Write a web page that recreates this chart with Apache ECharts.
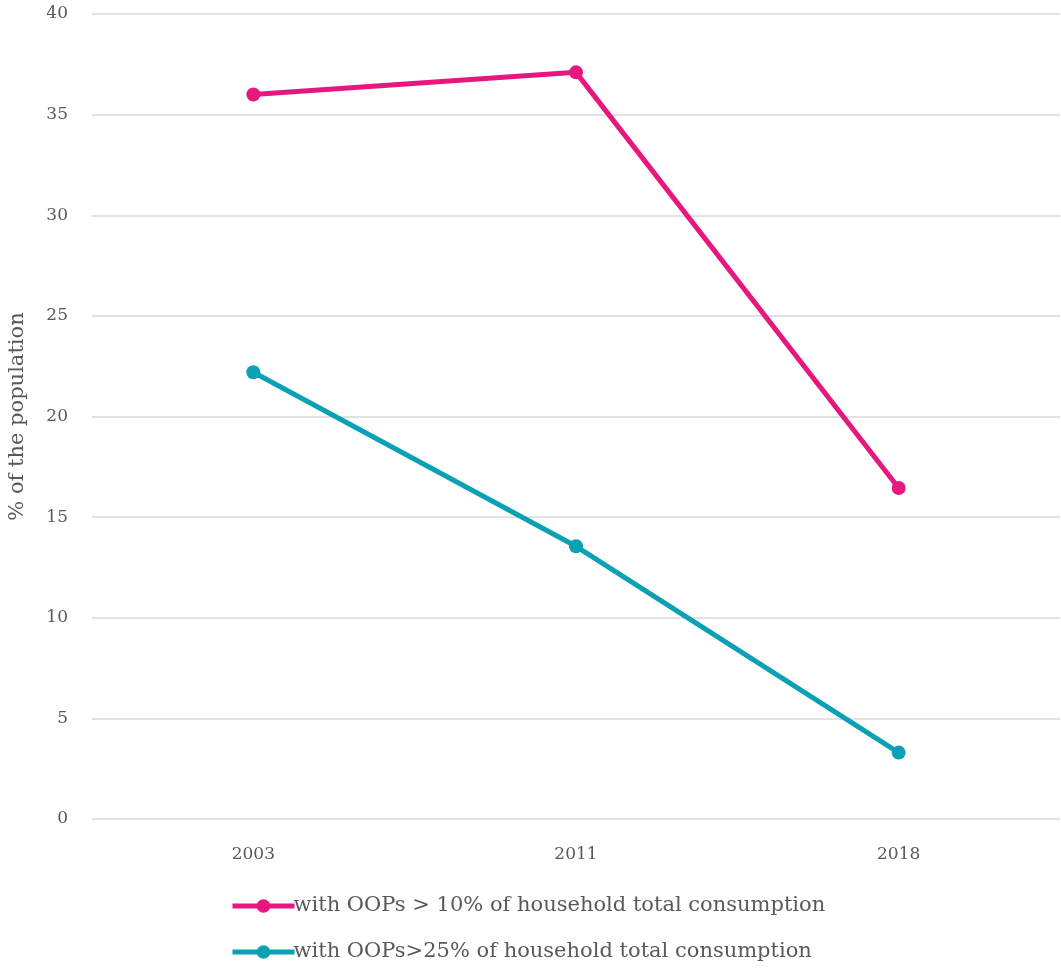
<!DOCTYPE html>
<html>
<head>
<meta charset="utf-8">
<script src="https://cdn.jsdelivr.net/npm/echarts@6/dist/echarts.min.js"></script>
<style>
  html, body { margin: 0; padding: 0; background: #fff; }
  #chart { width: 1061px; height: 969px; }
</style>
</head>
<body>
<div id="chart"></div>
<script>
// OOP spending share chart

var years = ['2003', '2011', '2018'];
var over10 = [36.0, 37.1, 16.45];
var over25 = [22.2, 13.55, 3.3];
var yTicks = [0, 5, 10, 15, 20, 25, 30, 35, 40];

var serif = '"DejaVu Serif", "Liberation Serif", serif';

var chart = echarts.init(document.getElementById('chart'));

var option = {
    animation: false,
    grid: {
        left: 92,
        right: 1,
        top: 14,
        bottom: 150,
        outerBoundsMode: 'none'
    },
    legend: {
        orient: 'vertical',
        left: 230,
        top: 895,
        padding: 0,
        itemGap: 24,
        itemWidth: 62,
        itemHeight: 17,
        lineStyle: { width: 5 },
        textStyle: {
            fontFamily: serif,
            fontSize: 21,
            lineHeight: 22,
            color: '#595959',
            padding: [0, 0, 0, -6]
        },
        data: ['with OOPs > 10% of household total consumption', 'with OOPs>25% of household total consumption']
    },
    xAxis: {
        type: 'category',
        data: years,
        boundaryGap: true,
        axisLine: { show: false },
        axisTick: { show: false },
        axisLabel: {
            margin: 27,
            fontFamily: serif,
            fontSize: 17,
            color: '#595959'
        }
    },
    yAxis: {
        type: 'value',
        min: yTicks[0],
        max: yTicks[yTicks.length - 1],
        interval: 5,
        name: '% of the population',
        nameLocation: 'middle',
        nameGap: 64,
        nameTextStyle: {
            fontFamily: serif,
            fontSize: 21,
            color: '#595959'
        },
        axisLine: { show: false },
        axisTick: { show: false },
        axisLabel: {
            margin: 24,
            fontFamily: serif,
            fontSize: 17,
            color: '#595959'
        },
        splitLine: {
            lineStyle: { color: '#d9d9d9', width: 1.5 }
        }
    },
    series: [
        {
            name: 'with OOPs > 10% of household total consumption',
            type: 'line',
            data: over10,
            color: '#e8177f',
            symbol: 'circle',
            symbolSize: 14,
            lineStyle: { width: 5 }
        },
        {
            name: 'with OOPs>25% of household total consumption',
            type: 'line',
            data: over25,
            color: '#0aa1b5',
            symbol: 'circle',
            symbolSize: 14,
            lineStyle: { width: 5 }
        }
    ]
};

chart.setOption(option);
</script>
</body>
</html>
